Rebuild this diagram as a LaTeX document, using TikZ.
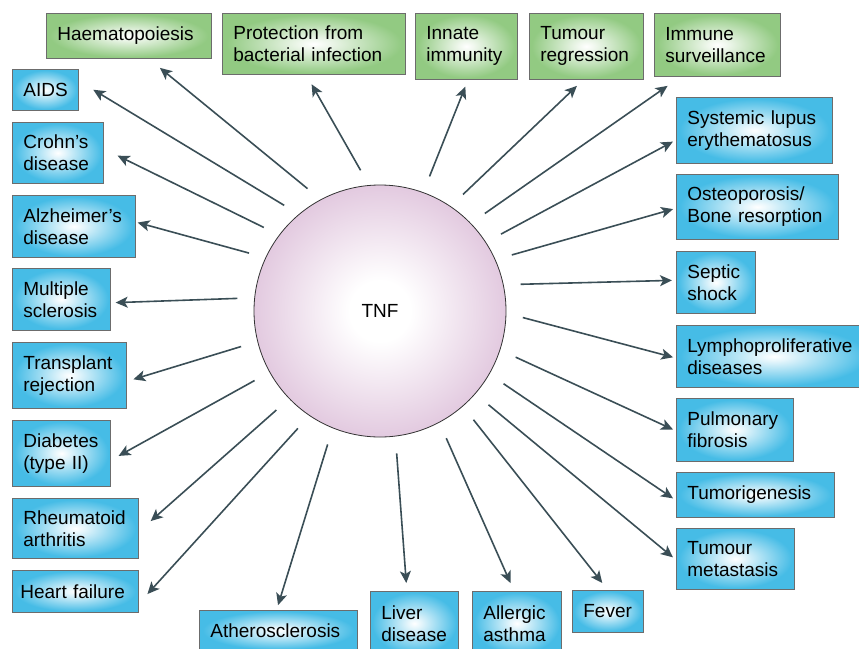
\documentclass[tikz,border=0pt]{standalone}
\usepackage{fontspec}
\setmainfont{Liberation Sans}
\usepackage{tikz}
\usetikzlibrary{arrows.meta}
\hyphenpenalty=10000
\definecolor{boxblue}{RGB}{70,188,230}
\definecolor{boxgreen}{RGB}{146,202,130}
\definecolor{tnfpink}{RGB}{216,182,212}
\definecolor{arrowgray}{RGB}{58,78,86}
\pgfdeclareradialshading{blueglow}{\pgfpoint{0bp}{0bp}}{color(0bp)=(white); color(4bp)=(white!85!boxblue); color(24bp)=(boxblue); color(50bp)=(boxblue)}
\pgfdeclareradialshading{greenglow}{\pgfpoint{0bp}{0bp}}{color(0bp)=(white); color(4bp)=(white!85!boxgreen); color(24bp)=(boxgreen); color(50bp)=(boxgreen)}
\pgfdeclareradialshading{tnfglow}{\pgfpoint{0bp}{0bp}}{color(0bp)=(white); color(6bp)=(white); color(32bp)=(tnfpink); color(50bp)=(tnfpink)}

\begin{document}
\begin{tikzpicture}[x=1pt, y=-1pt,
    every node/.append style={font=\fontsize{19}{22}\selectfont},
    disease/.style={draw=gray!85!black, line width=0.7pt, shading=blueglow,
      anchor=north west, inner xsep=11pt, inner ysep=2pt, align=left},
    effect/.style={disease, shading=greenglow},
    arr/.style={draw=arrowgray, line width=1.6pt, shorten <=17pt,
      -{Stealth[length=12pt,width=11pt,inset=3pt]}}]
    \useasboundingbox (0,0) rectangle (859,648);
    % centre
    \node[circle, draw=black!80, line width=0.8pt, shading=tnfglow,
      minimum size=252pt, inner sep=0pt] (tnf) at (380,311) {TNF};
    % physiological effects
    \node[effect, text width=143pt, minimum height=45pt] (hemat) at (46,13) {Haematopoiesis};
    \node[effect, text width=161pt, minimum height=61pt] (protect) at (222,13) {Protection from\\bacterial infection};
    \node[effect, text width=80pt, minimum height=66pt] (innate) at (415,13) {Innate\\immunity};
    \node[effect, text width=92pt, minimum height=66pt] (regress) at (529,13) {Tumour\\regression};
    \node[effect, text width=104pt, minimum height=63pt] (surveil) at (654,13) {Immune\\surveillance};
    % diseases, left
    \node[disease, text width=44pt, minimum height=41pt] (aids) at (12,69) {AIDS};
    \node[disease, text width=69pt, minimum height=61pt] (crohn) at (12,122) {Crohn's\\disease};
    \node[disease, text width=101pt, minimum height=62pt] (alz) at (12,195) {Alzheimer's\\disease};
    \node[disease, text width=76pt, minimum height=62pt] (ms) at (12,268) {Multiple\\sclerosis};
    \node[disease, text width=92pt, minimum height=66pt] (transp) at (12,342) {Transplant\\rejection};
    \node[disease, text width=76pt, minimum height=66pt] (diab) at (12,420) {Diabetes\\(type II)};
    \node[disease, text width=104pt, minimum height=60pt] (rheum) at (12,498) {Rheumatoid\\arthritis};
    \node[disease, inner xsep=8pt, text width=110pt, minimum height=42pt] (heart) at (12,570) {Heart failure};
    % diseases, bottom
    \node[disease, text width=136pt, minimum height=40pt] (athero) at (199,610) {Atherosclerosis};
    \node[disease, text width=66pt, minimum height=64pt] (liver) at (370,591) {Liver\\disease};
    \node[disease, text width=67pt, minimum height=64pt] (allergic) at (472,591) {Allergic\\asthma};
    \node[disease, text width=49pt, minimum height=42pt] (fever) at (572,590) {Fever};
    % diseases, right
    \node[disease, text width=134pt, minimum height=66pt] (sle) at (676,97) {Systemic lupus\\erythematosus};
    \node[disease, text width=140pt, minimum height=65pt] (osteo) at (676,174) {Osteoporosis/\\Bone resorption};
    \node[disease, text width=57pt, minimum height=62pt] (septic) at (676,251) {Septic\\shock};
    \node[disease, text width=173pt, minimum height=62pt] (lympho) at (676,325) {Lymphoproliferative\\diseases};
    \node[disease, text width=95pt, minimum height=63pt] (pulm) at (676,398) {Pulmonary\\fibrosis};
    \node[disease, text width=136pt, minimum height=45pt] (tumori) at (676,472) {Tumorigenesis};
    \node[disease, text width=96pt, minimum height=61pt] (metast) at (676,528) {Tumour\\metastasis};
    % arrows
    \draw[arr, shorten >=14.5pt] (tnf.118) -- (hemat.311.6);
    \draw[arr, shorten >=11pt] (tnf.95.2) -- (protect.256.2);
    \draw[arr, shorten >=7.5pt] (tnf.70.2) -- (innate.273.5);
    \draw[arr, shorten >=9pt] (tnf.56.1) -- (regress.265.8);
    \draw[arr, shorten >=16pt] (tnf.44.7) -- (surveil.221.5);
    \draw[arr, shorten >=3.5pt] (tnf.33) -- (sle.187.6);
    \draw[arr, shorten >=3pt] (tnf.24) -- (osteo.181.2);
    \draw[arr, shorten >=4pt] (tnf.12.5) -- (septic.177.1);
    \draw[arr, shorten >=3pt] (tnf.-1.2) -- (lympho.181.2);
    \draw[arr, shorten >=3.3pt] (tnf.-18.8) -- (pulm.181.9);
    \draw[arr, shorten >=3.6pt] (tnf.-30.9) -- (tumori.184);
    \draw[arr, shorten >=4pt] (tnf.-41.3) -- (metast.181);
    \draw[arr, shorten >=9pt] (tnf.-49.8) -- (fever.90);
    \draw[arr, shorten >=8.7pt] (tnf.-62.2) -- (allergic.95.6);
    \draw[arr, shorten >=8pt] (tnf.-83.2) -- (liver.103.6);
    \draw[arr, shorten >=5pt] (tnf.-112.3) -- (athero.95.4);
    \draw[arr, shorten >=13pt] (tnf.-124.6) -- (heart.349.5);
    \draw[arr, shorten >=16pt] (tnf.-136.1) -- (rheum.357.8);
    \draw[arr, shorten >=9pt] (tnf.-151.1) -- (diab.352.6);
    \draw[arr, shorten >=7pt] (tnf.-166.3) -- (transp.354.8);
    \draw[arr, shorten >=5pt] (tnf.174) -- (ms.356.5);
    \draw[arr, shorten >=2pt] (tnf.155.9) -- (alz.4.2);
    \draw[arr, shorten >=15.5pt] (tnf.143.7) -- (crohn.5.3);
    \draw[arr, shorten >=17pt] (tnf.130) -- (aids.15.4);
\end{tikzpicture}
\end{document}
